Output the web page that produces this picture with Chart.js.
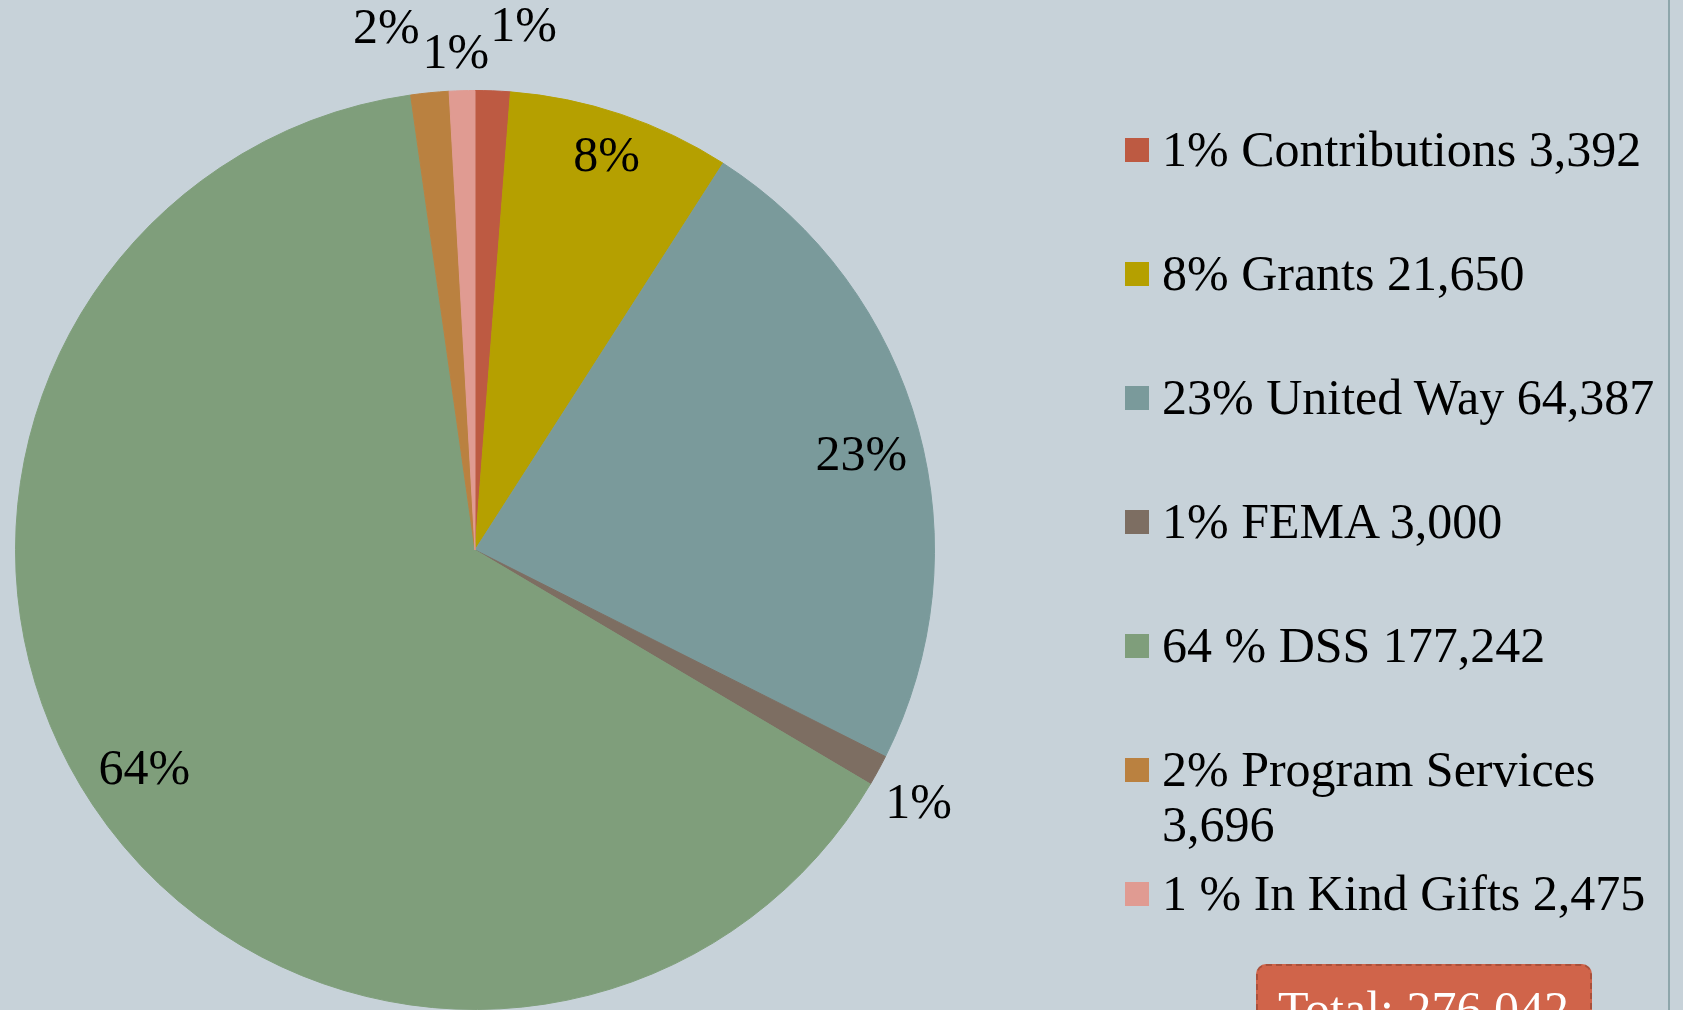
<!DOCTYPE html>
<html>
<head>
<meta charset="utf-8">
<script src="https://cdn.jsdelivr.net/npm/chart.js@4/dist/chart.umd.min.js"></script>
<style>
    html, body {
        margin: 0;
        padding: 0;
        width: 1683px;
        height: 1010px;
        overflow: hidden;
        background: #c7d2d9;
        font-family: "Liberation Serif", "DejaVu Serif", serif;
    }
    #frame {
        position: absolute;
        left: 0;
        top: 0;
        width: 1668px;
        height: 1010px;
        overflow: hidden;
        border-right: 2px solid #8ea6ab;
    }
    #pieWrap {
        position: absolute;
        left: 0;
        top: 0;
        width: 1000px;
        height: 1100px;
    }
    #legend {
        position: absolute;
        left: 1125px;
        top: 122px;
    }
    .item {
        display: flex;
        align-items: flex-start;
        height: 124px;
    }
    .swatch {
        width: 24px;
        height: 24px;
        margin-top: 16px;
        margin-right: 13px;
        flex: none;
    }
    .text {
        width: 540px;
        font-size: 50px;
        line-height: 55px;
        color: #000;
    }
    #total {
        position: absolute;
        left: 1256px;
        top: 964px;
        width: 336px;
        height: 80px;
        background: #d0644a;
        border: 2px dashed #a9503a;
        border-radius: 10px;
        color: #fff;
        font-size: 50px;
        line-height: 50px;
        padding: 18px 0 0 20px;
        box-sizing: border-box;
    }
</style>
</head>
<body>
<div id="frame">
    <div id="pieWrap"><canvas id="revenuePie" width="1000" height="1100"></canvas></div>
    <div id="legend"></div>
    <div id="total">Total: 276,042</div>
</div>
<script>
const categories = ["Contributions", "Grants", "United Way", "FEMA", "DSS", "Program Services", "In Kind Gifts"];
const amounts = [3392, 21650, 64387, 3000, 177242, 3696, 2475];
const percentLabels = ["1%", "8%", "23%", "1%", "64%", "2%", "1%"];
const legendLabels = [
    "1% Contributions 3,392",
    "8% Grants 21,650",
    "23% United Way 64,387",
    "1% FEMA 3,000",
    "64 % DSS 177,242",
    "2% Program Services 3,696",
    "1 % In Kind Gifts 2,475"
];
const sliceColors = ["#bd5a42", "#b5a000", "#7a9a9b", "#7d6e62", "#7f9e7b", "#ba8140", "#e09b92"];

// small slices get their label outside the pie, nudged like the original
const outsideSlices = [0, 3, 5, 6];
const labelNudge = {
    0: [29, -17],
    2: [3, 12],
    3: [0, 12],
    5: [-39, -17],
    6: [-5, 10]
};

const pieLabels = {
    id: "pieLabels",
    afterDatasetsDraw(chart) {
        const ctx = chart.ctx;
        const meta = chart.getDatasetMeta(0);
        ctx.save();
        ctx.font = "50px 'Liberation Serif', serif";
        ctx.fillStyle = "#000";
        ctx.textAlign = "center";
        ctx.textBaseline = "middle";
        meta.data.forEach((arc, i) => {
            const p = arc.getProps(["x", "y", "startAngle", "endAngle", "outerRadius"], true);
            const mid = (p.startAngle + p.endAngle) / 2;
            let r;
            if (outsideSlices.includes(i)) {
                r = p.outerRadius * 1.1;
            } else {
                r = p.outerRadius * (i === 1 ? 0.9 : 0.865);
            }
            const nudge = labelNudge[i] || [0, 0];
            ctx.fillText(percentLabels[i], p.x + Math.cos(mid) * r + nudge[0], p.y + Math.sin(mid) * r + nudge[1]);
        });
        ctx.restore();
    }
};

const legend = document.getElementById("legend");
legendLabels.forEach((txt, i) => {
    const row = document.createElement("div");
    row.className = "item";
    const sw = document.createElement("div");
    sw.className = "swatch";
    sw.style.background = sliceColors[i];
    const t = document.createElement("div");
    t.className = "text";
    t.textContent = txt;
    row.appendChild(sw);
    row.appendChild(t);
    legend.appendChild(row);
});

const ctx = document.getElementById("revenuePie").getContext("2d");
new Chart(ctx, {
    type: "pie",
    data: {
        labels: categories,
        datasets: [{
            data: amounts,
            backgroundColor: sliceColors,
            borderColor: sliceColors,
            borderWidth: 1
        }]
    },
    options: {
        responsive: false,
        animation: false,
        layout: {
            padding: { left: 15, right: 65, top: 15, bottom: 15 }
        },
        plugins: {
            legend: { display: false },
            tooltip: { enabled: false }
        }
    },
    plugins: [pieLabels]
});
</script>
</body>
</html>
